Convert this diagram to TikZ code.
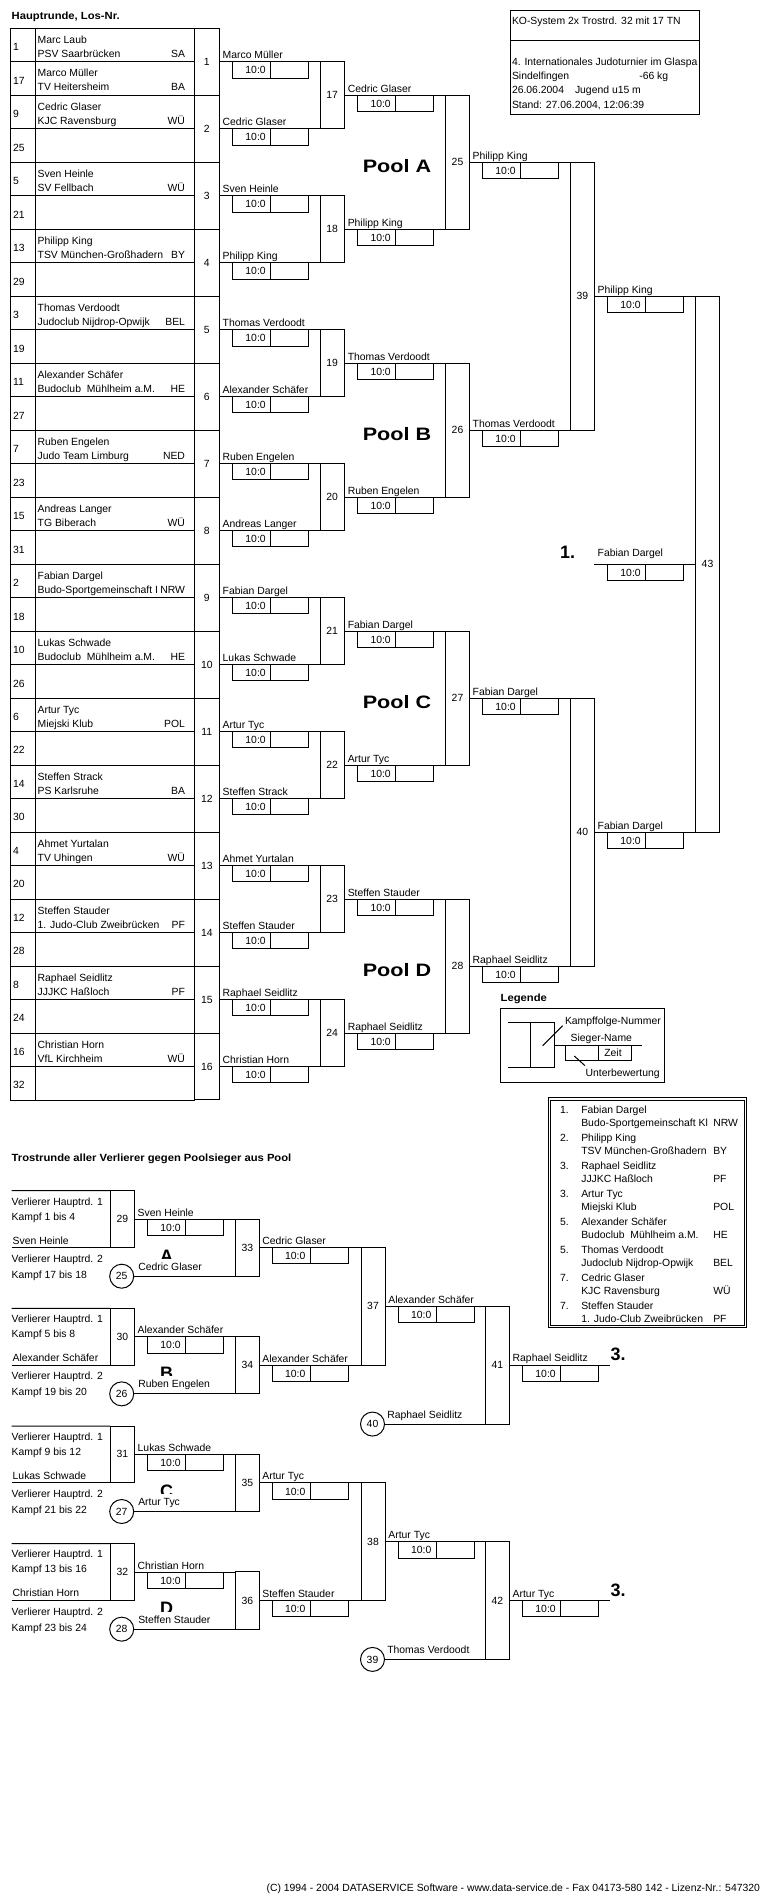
\documentclass[tikz,border=0pt]{standalone}
\usepackage{fontspec}
\usepackage{graphicx}
\setmainfont{Liberation Sans}
\usetikzlibrary{calc}
\tikzset{
  base/.style={font=\fontsize{10.4}{12}\selectfont, inner sep=0pt, outer sep=0pt},
  lbl/.style={base, anchor=base west},
  lblr/.style={base, anchor=base east},
  fbox/.style={base, draw, rectangle, anchor=center},
  circ/.style={base, draw, circle, minimum size=24pt},
  bigb/.style={inner sep=0pt, outer sep=0pt, font=\fontsize{18}{20}\selectfont\bfseries},
  head/.style={inner sep=0pt, outer sep=0pt, anchor=base west, font=\fontsize{10.4}{12}\selectfont\bfseries},
  sc/.style={base, anchor=east},
}
\newcommand\winline[5][3]{%
  \draw #3 -- #4;
  \node[lbl] (#2-n) at ($#3+(3.4,-#1)$) {#5};
  \draw ($#3+(13,0)$) rectangle ($#3+(89,16.3)$);
  \draw ($#3+(51.4,0)$) -- ($#3+(51.4,16.3)$);
  \node[sc] (#2-s) at ($#3+(46.4,8.6)$) {10:0};
}
\begin{document}
\begin{tikzpicture}[x=1pt,y=-1pt,line width=1pt]
\useasboundingbox (0,0) rectangle (770,1900);

% ---------- heading and header box
\node[head] (hhead) at (11.7,20) {\scalebox{1.08}[1]{Hauptrunde, Los-Nr.}};
\node[draw, anchor=north west, minimum width=189.3, minimum height=104.3, inner sep=0pt] (hdr) at (510,10) {};
\draw ($(hdr.north west)+(0,31)$) -- ($(hdr.north east)+(0,31)$);
\node[lbl] (h1) at (512,25) {KO-System 2x Trostrd. 32 mit 17 TN};
\begin{scope}
\clip (510,41) rectangle (699.3,114.3);
\node[lbl] (h2) at (512,65.7) {4. Internationales Judoturnier im Glaspa};
\end{scope}
\node[lbl] (h3) at (512,79.5) {Sindelfingen};
\node[lbl] (h3b) at (639.3,79.5) {-66 kg};
\node[lbl] (h4) at (512,94) {26.06.2004};
\node[lbl] (h4b) at (575,94) {Jugend u15 m};
\node[lbl] (h5) at (512,109) {Stand: 27.06.2004, 12:06:39};

% ---------- draw table
\draw (10.7,28.3) rectangle (194.3,1100);
\draw (35.3,28.3) -- (35.3,1100);
\foreach \r in {1,...,31}{\draw (10.7,{28.3+33.49*\r}) -- (194.3,{28.3+33.49*\r});}
\foreach \l [count=\r] in {1,17,9,25,5,21,13,29,3,19,11,27,7,23,15,31,2,18,10,26,6,22,14,30,4,20,12,28,8,24,16,32}{
  \node[lbl] (los\r) at (13,{28.3+33.49*(\r-1)+22.4}) {\l};
}
\foreach \r/\nm/\cl/\rg in {1/Marc Laub/PSV Saarbrücken/SA, 2/Marco Müller/TV Heitersheim/BA, 3/Cedric Glaser/KJC Ravensburg/WÜ, 5/Sven Heinle/SV Fellbach/WÜ, 7/Philipp King/TSV München-Großhadern/BY, 9/Thomas Verdoodt/Judoclub Nijdrop-Opwijk/BEL, 11/Alexander Schäfer/Budoclub\ \ Mühlheim a.M./HE, 13/Ruben Engelen/Judo Team Limburg/NED, 15/Andreas Langer/TG Biberach/WÜ, 17/Fabian Dargel/Budo-Sportgemeinschaft I/NRW, 19/Lukas Schwade/Budoclub\ \ Mühlheim a.M./HE, 21/Artur Tyc/Miejski Klub/POL, 23/Steffen Strack/PS Karlsruhe/BA, 25/Ahmet Yurtalan/TV Uhingen/WÜ, 27/Steffen Stauder/1. Judo-Club Zweibrücken/PF, 29/Raphael Seidlitz/JJJKC Haßloch/PF, 31/Christian Horn/VfL Kirchheim/WÜ}{
  \node[lbl] (nm\r) at (37.7,{28.3+33.49*(\r-1)+15}) {\nm};
  \node[lbl] (cl\r) at (37.7,{28.3+33.49*(\r-1)+29}) {\cl};
  \node[lblr] (rg\r) at (185,{28.3+33.49*(\r-1)+29}) {\rg};
}

% ---------- fight boxes main round
\foreach \i in {1,...,16}{
  \node[fbox, minimum width=25, minimum height=66.98] (f\i) at (206.8,{61.79+66.98*(\i-1)}) {\i};
}
\foreach \j in {17,...,24}{
  \node[fbox, minimum width=24.3, minimum height=66.98] (f\j) at (332.2,{95.28+133.96*(\j-17)}) {\j};
}
\foreach \k in {25,...,28}{
  \node[fbox, minimum width=23.6, minimum height=133.96] (f\k) at (457.5,{162.26+267.92*(\k-25)}) {\k};
}
\node[fbox, minimum width=24, minimum height=267.92] (f39) at (582.3,296.22) {39};
\node[fbox, minimum width=24, minimum height=267.92] (f40) at (582.3,832.06) {40};
\node[fbox, minimum width=23.6, minimum height=535.84] (f43) at (707.5,564.14) {43};

% ---------- winner lines
\foreach \i/\w in {1/Marco Müller, 2/Cedric Glaser, 3/Sven Heinle, 4/Philipp King, 5/Thomas Verdoodt, 6/Alexander Schäfer, 7/Ruben Engelen, 8/Andreas Langer, 9/Fabian Dargel, 10/Lukas Schwade, 11/Artur Tyc, 12/Steffen Strack, 13/Ahmet Yurtalan, 14/Steffen Stauder, 15/Raphael Seidlitz, 16/Christian Horn}{
  \pgfmathtruncatemacro\j{16+int((\i+1)/2)}
  \winline{w\i}{(f\i.east)}{(f\j.west |- f\i.east)}{\w}
}
\foreach \j/\w in {17/Cedric Glaser, 18/Philipp King, 19/Thomas Verdoodt, 20/Ruben Engelen, 21/Fabian Dargel, 22/Artur Tyc, 23/Steffen Stauder, 24/Raphael Seidlitz}{
  \pgfmathtruncatemacro\k{25+int((\j-17)/2)}
  \winline{w\j}{(f\j.east)}{(f\k.west |- f\j.east)}{\w}
}
\foreach \k/\w in {25/Philipp King, 26/Thomas Verdoodt, 27/Fabian Dargel, 28/Raphael Seidlitz}{
  \pgfmathtruncatemacro\m{39+int((\k-25)/2)}
  \winline{w\k}{(f\k.east)}{(f\m.west |- f\k.east)}{\w}
}
\winline{w39}{(f39.east)}{(f43.west |- f39.east)}{Philipp King}
\winline{w40}{(f40.east)}{(f43.west |- f40.east)}{Fabian Dargel}
\coordinate (champ) at (594.3,564.14);
\winline[8]{wf}{(champ)}{(f43.west)}{Fabian Dargel}
\node[bigb, anchor=base west] (first) at (560,558.3) {1.};

% ---------- pool labels
\foreach \p [count=\q from 0] in {A,B,C,D}{
  \node[bigb] (pool\p) at (397,{166+267.92*\q}) {\scalebox{1.2}[1]{Pool \p}};
}

% ---------- legend
\node[head] (leg) at (500.7,1001.7) {\scalebox{1.08}[1]{Legende}};
\node[draw, anchor=north west, minimum width=164, minimum height=74, inner sep=0pt] (legbox) at (500.3,1008.3) {};
\node[fbox, minimum width=23.3, minimum height=44.6] (legf) at (542.35,1045) {};
\coordinate (lg1) at (508.3,1022.7);
\coordinate (lg2) at (508.3,1067.3);
\coordinate (lg3) at (641.7,1045);
\draw (lg1) -- (legf.north west);
\draw (lg2) -- (legf.south west);
\draw (legf.east) -- (lg3);
\draw (565.7,1045) rectangle (631.3,1060);
\draw (598.3,1045) -- (598.3,1060);
\node[lbl] (lgt1) at (565,1024) {Kampffolge-Nummer};
\node[lbl] (lgt2) at (570.7,1041.7) {Sieger-Name};
\node[base, anchor=base] (lgt3) at (613,1056.3) {Zeit};
\node[lbl] (lgt4) at (585.7,1076.7) {Unterbewertung};
\draw (542.7,1045.7) -- (562.7,1025.7);
\draw (574.3,1056) -- (585,1065.7);

% ---------- results box
\draw[line width=0.8pt] (548.3,1097.7) rectangle (746.7,1327.3);
\draw[line width=0.8pt] (550.6,1100) rectangle (744.4,1325);
\foreach \pl/\nm/\cl/\rg [count=\e] in {1./Fabian Dargel/Budo-Sportgemeinschaft Kl/NRW, 2./Philipp King/TSV München-Großhadern/BY, 3./Raphael Seidlitz/JJJKC Haßloch/PF, 3./Artur Tyc/Miejski Klub/POL, 5./Alexander Schäfer/Budoclub\ \ Mühlheim a.M./HE, 5./Thomas Verdoodt/Judoclub Nijdrop-Opwijk/BEL, 7./Cedric Glaser/KJC Ravensburg/WÜ, 7./Steffen Stauder/1. Judo-Club Zweibrücken/PF}{
  \node[lbl] (rp\e) at (560,{1113.3+28*(\e-1)}) {\pl};
  \node[lbl] (rn\e) at (581.3,{1113.3+28*(\e-1)}) {\nm};
  \node[lbl] (rc\e) at (581.3,{1126.7+28*(\e-1)}) {\cl};
  \node[lbl] (rr\e) at (713.3,{1126.7+28*(\e-1)}) {\rg};
}

% ---------- consolation round
\node[head] (thead) at (11.7,1161) {\scalebox{1.08}[1]{Trostrunde aller Verlierer gegen Poolsieger aus Pool}};
\node[fbox, minimum width=24, minimum height=117.65] (f37) at (373,1306.4) {37};
\node[fbox, minimum width=24, minimum height=117.65] (f38) at (373,1541.7) {38};
\node[circ] (c40) at (372.5,1424.05) {40};
\node[circ] (c39) at (372.5,1659.4) {39};
\node[fbox, minimum width=24, minimum height=117.65] (f41) at (497.3,1365.2) {41};
\node[fbox, minimum width=24, minimum height=117.65] (f42) at (497.3,1600.55) {42};

\foreach \k/\ka/\lo/\kb/\cn/\wn/\L in {0/1 bis 4/Sven Heinle/17 bis 18/Cedric Glaser/Cedric Glaser/A, 1/5 bis 8/Alexander Schäfer/19 bis 20/Ruben Engelen/Alexander Schäfer/B, 2/9 bis 12/Lukas Schwade/21 bis 22/Artur Tyc/Artur Tyc/C, 3/13 bis 16/Christian Horn/23 bis 24/Steffen Stauder/Steffen Stauder/D}{
  \pgfmathsetmacro\T{1190.7+117.65*\k}
  \pgfmathtruncatemacro\na{29+\k}
  \pgfmathtruncatemacro\nb{33+\k}
  \pgfmathtruncatemacro\nc{25+\k}
  \pgfmathtruncatemacro\nd{37+int(\k/2)}
  \node[fbox, minimum width=24, minimum height=56.7] (f\na) at (122.3,{\T+28.35}) {\na};
  \coordinate (lt\k) at (11.7,\T);
  \coordinate (lb\k) at (11.7,{\T+56.7});
  \draw (lt\k) -- (f\na.north west);
  \draw (lb\k) -- (f\na.south west);
  \node[lbl] (va\k) at (11.7,{\T+14.3}) {Verlierer Hauptrd. 1};
  \node[lbl] (ka\k) at (11.7,{\T+29.3}) {Kampf \ka};
  \node[lbl] (lo\k) at (12.7,{\T+53.3}) {\lo};
  \node[lbl] (vb\k) at (11.7,{\T+71.6}) {Verlierer Hauptrd. 2};
  \node[lbl] (kb\k) at (11.7,{\T+87.6}) {Kampf \kb};
  \node[circ] (c\nc) at (121.7,{\T+85.5}) {\nc};
  \node[fbox, minimum width=23.3, minimum height=57.15] (f\nb) at (247.35,{\T+56.9}) {\nb};
  \winline{w\na}{(f\na.east)}{(f\nb.west |- f\na.east)}{\lo}
  \begin{scope}
    \clip (150,{\T+50}) rectangle (190,{\T+67.6});
    \node[bigb, anchor=base] (let\k) at (166.7,{\T+71.3}) {\L};
  \end{scope}
  \draw (c\nc.east) -- (f\nb.west |- c\nc.east);
  \node[lbl] (cn\k) at ($(c\nc.east)+(4.6,-6)$) {\cn};
  \winline{w\nb}{(f\nb.east)}{(f\nd.west |- f\nb.east)}{\wn}
}

\winline{w37}{(f37.east)}{(f41.west |- f37.east)}{Alexander Schäfer}
\draw (c40.east) -- (f41.west |- c40.east);
\node[lbl] (cn40) at ($(c40.east)+(2.8,-6)$) {Raphael Seidlitz};
\coordinate (e41) at (610,1365.2);
\winline[3.5]{w41}{(f41.east)}{(e41)}{Raphael Seidlitz}
\node[bigb, anchor=base west] (third1) at (610.5,1360.9) {3.};

\winline{w38}{(f38.east)}{(f42.west |- f38.east)}{Artur Tyc}
\draw (c39.east) -- (f42.west |- c39.east);
\node[lbl] (cn39) at ($(c39.east)+(2.8,-6)$) {Thomas Verdoodt};
\coordinate (e42) at (610,1600.55);
\winline[3.5]{w42}{(f42.east)}{(e42)}{Artur Tyc}
\node[bigb, anchor=base west] (third2) at (610.5,1596.2) {3.};

% ---------- footer
\node[lblr] (foot) at (760,1891.5) {(C) 1994 - 2004 DATASERVICE Software - www.data-service.de - Fax 04173-580 142 - Lizenz-Nr.: 547320};
\end{tikzpicture}
\end{document}
